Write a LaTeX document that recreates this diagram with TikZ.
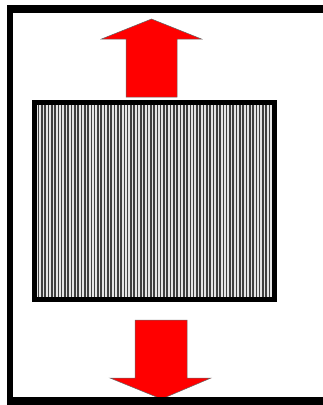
\documentclass[tikz,border=0pt]{standalone}
\usepackage[dvipsnames]{xcolor}
\usepackage{tikz}

\begin{document}
\begin{tikzpicture}[x=1pt,y=-1pt]
  \useasboundingbox (0,0) rectangle (323,405);
  % striped plate
  \fill[gray!20] (32,100) rectangle (277,302);
  \foreach \x in {38.5,41.8,...,271} {
    \draw[black!75,line width=1.6pt] (\x,104) -- (\x,298);
  }
  \draw[line width=5pt] (34.5,102.5) rectangle (274.5,299.5);
  % upward arrow
  \coordinate (uptip) at (151.5,19);
  \filldraw[fill=red,draw=black!60,line width=0.5pt]
    (126,97) -- (126,39) -- (101.5,39) -- (uptip) -- (201.5,39) -- (177,39) -- (177,97) -- cycle;
  % downward arrow
  \coordinate (downtip) at (161.5,399);
  \filldraw[fill=red,draw=black!60,line width=0.5pt]
    (135,320) -- (135,378) -- (110,378) -- (downtip) -- (211,378) -- (187,378) -- (187,320) -- cycle;
  % frame
  \fill (7,5) rectangle (323,13);
  \fill (7,5) rectangle (13,405);
  \fill (7,397) rectangle (323,405);
\end{tikzpicture}
\end{document}
